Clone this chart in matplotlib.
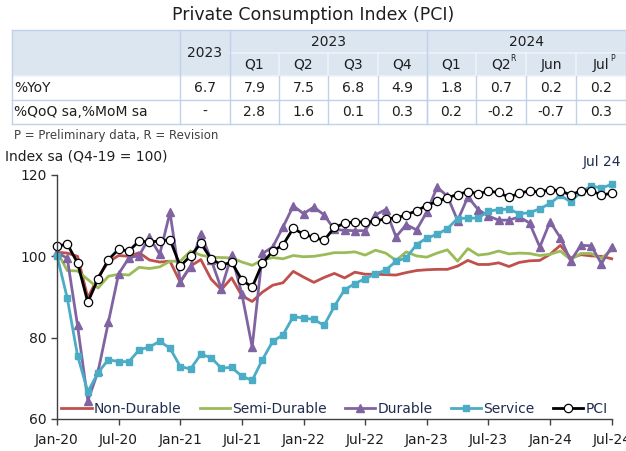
import matplotlib
matplotlib.use("Agg")
import matplotlib.pyplot as plt
from matplotlib.patches import Rectangle

# ---- table data ----
table_years = ["2023", "2024"]
table_cols = ["Q1", "Q2", "Q3", "Q4", "Q1", "Q2", "Jun", "Jul"]
table_sup = ["", "", "", "", "", "R", "", "P"]
row_labels = ["%YoY", "%QoQ sa,%MoM sa"]
yoy = ["6.7", "7.9", "7.5", "6.8", "4.9", "1.8", "0.7", "0.2", "0.2"]
qoq = ["-", "2.8", "1.6", "0.1", "0.3", "0.2", "-0.2", "-0.7", "0.3"]

# ---- chart data (monthly, Jan-20 .. Jul-24) ----
tick_labels = ["Jan-20", "Jul-20", "Jan-21", "Jul-21", "Jan-22", "Jul-22",
               "Jan-23", "Jul-23", "Jan-24", "Jul-24"]

non_durable = [101.0, 100.8, 100.0, 89.8, 94.9, 98.6, 100.2, 100.0, 100.9, 99.1,
               98.6, 98.8, 93.6, 97.6, 99.2, 94.4, 91.8, 94.7, 90.3, 88.9,
               91.2, 92.9, 93.5, 96.3, 94.9, 93.6, 94.8, 95.8, 94.7, 96.1,
               95.6, 95.6, 95.5, 95.4, 96.0, 96.5, 96.7, 96.8, 96.8, 97.6,
               99.0, 98.0, 98.0, 98.4, 97.5, 98.5, 98.9, 99.0, 100.5, 102.7,
               99.6, 100.4, 100.1, 100.0, 99.4]
semi_durable = [101.2, 96.5, 96.4, 94.3, 92.2, 95.1, 95.6, 95.4, 97.3, 97.0,
                97.4, 98.8, 98.8, 101.3, 100.3, 99.8, 99.7, 99.6, 98.6, 97.8,
                99.1, 99.7, 99.4, 100.2, 99.9, 100.0, 100.4, 100.9, 100.9, 101.1,
                100.3, 101.5, 100.8, 99.0, 101.1, 100.1, 99.8, 100.8, 101.6, 98.8,
                101.9, 100.3, 100.6, 101.3, 100.6, 100.8, 100.7, 100.2, 100.5, 101.3,
                99.2, 100.7, 100.7, 99.5, 101.6]
durable = [101.0, 99.5, 83.0, 64.5, 71.7, 83.8, 95.7, 99.6, 100.2, 104.7,
           100.5, 110.8, 93.8, 97.5, 105.6, 99.2, 92.0, 100.3, 90.7, 77.7,
           100.7, 102.3, 107.2, 112.4, 110.5, 112.1, 110.2, 106.6, 106.4, 106.3,
           106.3, 110.2, 111.5, 104.8, 107.8, 106.5, 110.9, 117.0, 114.8, 108.8,
           114.6, 111.5, 109.9, 108.9, 108.9, 109.7, 108.2, 102.3, 108.5, 104.6,
           98.9, 102.7, 102.6, 98.2, 102.4]
service = [100.2, 89.7, 75.6, 66.7, 71.4, 74.6, 74.1, 74.1, 77.0, 77.7,
           79.1, 77.4, 72.9, 72.3, 75.9, 75.1, 72.5, 72.7, 70.5, 69.5,
           74.6, 79.1, 80.7, 85.2, 84.8, 84.5, 83.0, 87.7, 91.8, 93.3,
           94.5, 95.7, 96.6, 98.8, 99.6, 102.9, 104.5, 105.4, 106.8, 109.3,
           109.4, 109.4, 111.1, 111.5, 111.6, 110.5, 110.7, 111.7, 113.0, 115.0,
           113.4, 115.8, 117.3, 116.8, 117.7]
pci = [102.5, 103.0, 98.4, 88.7, 94.5, 99.2, 101.7, 101.3, 103.8, 103.5,
       103.8, 104.1, 97.6, 100.1, 103.2, 99.4, 97.9, 98.5, 94.2, 92.4,
       98.3, 101.3, 102.8, 106.9, 105.4, 104.7, 103.9, 107.1, 108.1, 108.5,
       108.4, 108.6, 109.3, 109.4, 110.2, 111.2, 112.5, 113.5, 114.4, 115.2,
       115.9, 115.4, 116.0, 115.7, 114.5, 115.5, 116.1, 115.8, 116.4, 116.1,
       115.1, 116.1, 116.1, 115.1, 115.5]

months = list(range(len(pci)))

W, H = 626, 451
txt = "#1f1f1f"
fig = plt.figure(figsize=(W / 100, H / 100), dpi=100)
plt.rcParams['font.family'] = ['DejaVu Sans']

# title
fig.text(313 / W, 1 - 15 / H, "Private Consumption Index (PCI)", ha="center", va="center",
         fontsize=12.5, color=txt)

# table drawn in a pixel-coordinate overlay
tab = fig.add_axes([0, 1 - 150 / H, 1, 150 / H])
tab.set_xlim(0, W)
tab.set_ylim(150, 0)
tab.axis("off")

col_x = [12, 180, 230, 279, 328, 378, 427, 476, 526, 576, 626]
row_y = [30, 53, 76, 100, 124]
head_fill = "#dce6f1"
line_c = "#c0d1e8"

tab.add_patch(Rectangle((col_x[0], row_y[0]), col_x[-1] - col_x[0], row_y[2] - row_y[0],
                        facecolor=head_fill, edgecolor="none"))
# light separators inside header
tab.plot([col_x[2], col_x[-1]], [row_y[1], row_y[1]], color="#eef3fa", lw=1.2)
for x in col_x[3:-1]:
    if x != col_x[6]:
        tab.plot([x, x], [row_y[1], row_y[2]], color="#eef3fa", lw=1.2)
# blue-grey grid lines
for y in [row_y[0], row_y[3], row_y[4]]:
    tab.plot([col_x[0], col_x[-1]], [y, y], color=line_c, lw=1)
tab.plot([col_x[0], col_x[-1]], [row_y[2], row_y[2]], color="#eef3fa", lw=1.2)
for x in [col_x[0], col_x[1], col_x[2], col_x[6], col_x[-1] - 0.5]:
    tab.plot([x, x], [row_y[0], row_y[4]], color=line_c, lw=1)
for x in col_x[3:-1]:
    tab.plot([x, x], [row_y[2], row_y[4]], color=line_c, lw=1)

fs = 10
tab.text((col_x[1] + col_x[2]) / 2, (row_y[0] + row_y[2]) / 2, "2023", ha="center",
         va="center", fontsize=fs, color=txt)
tab.text((col_x[2] + col_x[6]) / 2, (row_y[0] + row_y[1]) / 2, table_years[0], ha="center",
         va="center", fontsize=fs, color=txt)
tab.text((col_x[6] + col_x[-1]) / 2, (row_y[0] + row_y[1]) / 2, table_years[1], ha="center",
         va="center", fontsize=fs, color=txt)
for i, c in enumerate(table_cols):
    cx = (col_x[i + 2] + col_x[i + 3]) / 2
    cy = (row_y[1] + row_y[2]) / 2
    tab.text(cx, cy, c, ha="center", va="center", fontsize=fs, color=txt)
    if table_sup[i]:
        tab.text(cx + 9, cy - 6, table_sup[i], ha="left", va="center", fontsize=5.5, color=txt)

for r, (lab, vals) in enumerate(zip(row_labels, [yoy, qoq])):
    cy = (row_y[r + 2] + row_y[r + 3]) / 2
    tab.text(col_x[0] + 2, cy, lab, ha="left", va="center", fontsize=fs, color=txt)
    for j, v in enumerate(vals):
        tab.text((col_x[j + 1] + col_x[j + 2]) / 2, cy, v, ha="center", va="center",
                 fontsize=fs, color=txt)

fig.text(14 / W, 1 - 135 / H, "P = Preliminary data, R = Revision", ha="left", va="center",
         fontsize=8.5, color="#404040")

# chart
ax = fig.add_axes([57 / W, 1 - 419 / H, (611.7 - 57) / W, (419 - 175) / H])
lw = 2.0
ax.plot(months, non_durable, color="#c0504d", lw=lw, label="Non-Durable", clip_on=False)
ax.plot(months, semi_durable, color="#9bbb59", lw=lw, label="Semi-Durable", clip_on=False)
ax.plot(months, durable, color="#8064a2", lw=lw, marker="^", ms=5.5, label="Durable",
        clip_on=False)
ax.plot(months, service, color="#4bacc6", lw=lw, marker="s", ms=5, label="Service",
        clip_on=False)
ax.plot(months, pci, color="black", lw=lw, marker="o", ms=6, mfc="white", mec="black",
        mew=0.9, label="PCI", clip_on=False)

ax.set_xlim(0, 54)
ax.set_ylim(60, 120)
ax.set_yticks([60, 80, 100, 120])
ax.set_xticks(range(0, 55, 6))
ax.set_xticklabels(tick_labels)
for s in ["top", "right"]:
    ax.spines[s].set_visible(False)
for s in ["left", "bottom"]:
    ax.spines[s].set_color("#404040")
    ax.spines[s].set_linewidth(1)
ax.tick_params(axis="both", direction="out", length=4, width=1, color="#404040",
               labelsize=10, labelcolor=txt)
ax.tick_params(axis="x", pad=6)

ax.legend(loc="center", bbox_to_anchor=(0.5, 10 / 244), ncol=5, frameon=False,
          fontsize=10, handlelength=2.2, handletextpad=0.15, columnspacing=1.3,
          labelcolor="#1f2d4e")

fig.text(5 / W, 1 - 156 / H, "Index sa (Q4-19 = 100)", ha="left", va="center",
         fontsize=10, color=txt)
fig.text(621 / W, 1 - 162 / H, "Jul 24", ha="right", va="center", fontsize=10,
         color="#1f2d4e")

fig.savefig("out.png", dpi=100)
